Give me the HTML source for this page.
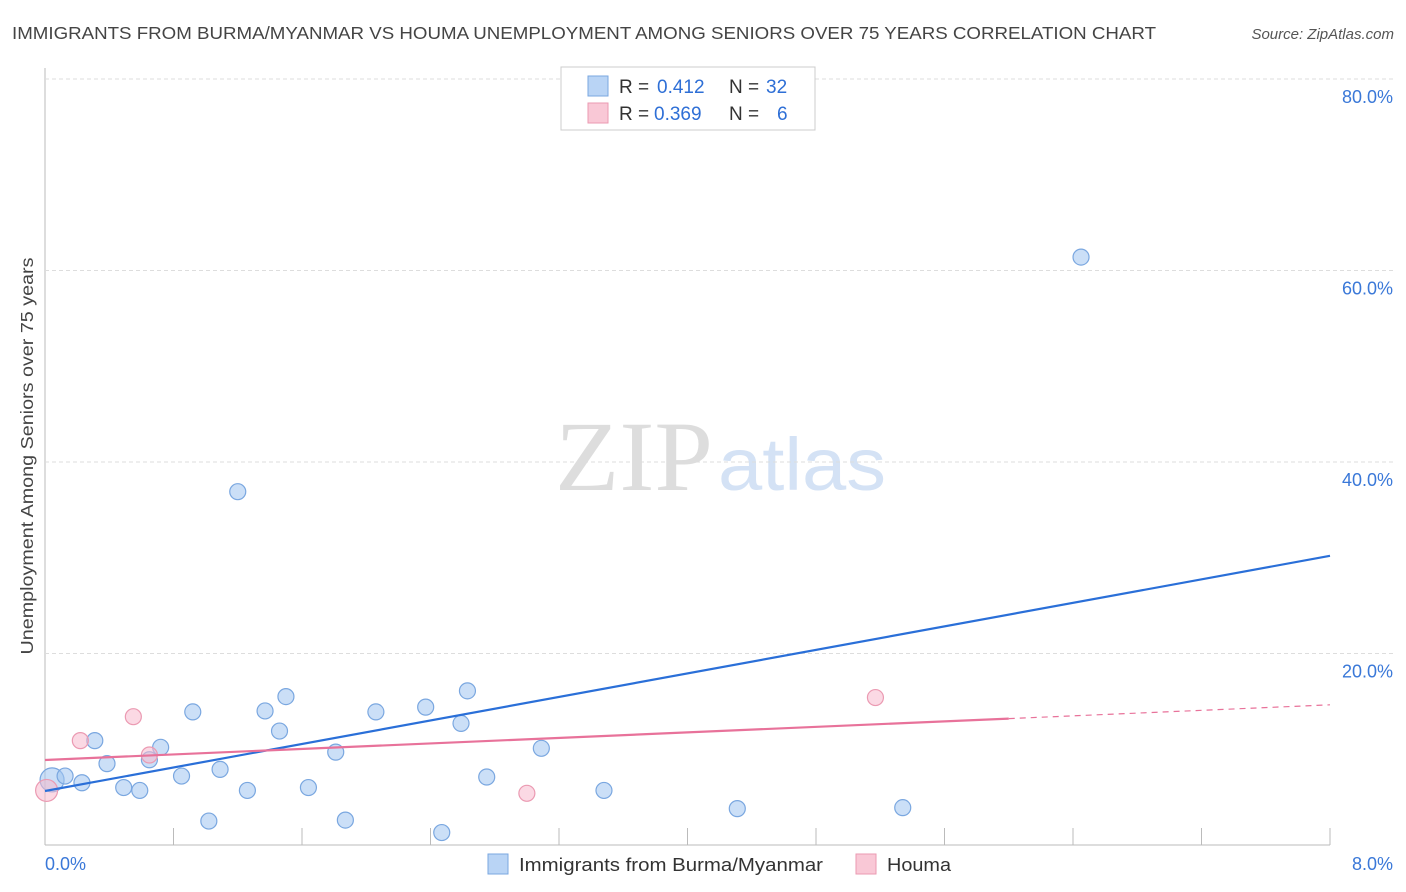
<!DOCTYPE html>
<html><head><meta charset="utf-8"><style>
body{margin:0;background:#fff;font-family:"Liberation Sans",sans-serif;}
svg{display:block}
</style></head><body>
<svg id="chart" width="1406" height="892">
<text x="12" y="39" font-size="17.5" fill="#444" textLength="1144" lengthAdjust="spacingAndGlyphs">IMMIGRANTS FROM BURMA/MYANMAR VS HOUMA UNEMPLOYMENT AMONG SENIORS OVER 75 YEARS CORRELATION CHART</text>
<text x="1394" y="39" font-size="15" fill="#555" font-style="italic" text-anchor="end">Source: ZipAtlas.com</text>
<text x="555" y="490" font-size="100" font-family="Liberation Serif" fill="#ddd" textLength="158" lengthAdjust="spacingAndGlyphs">ZIP</text>
<text x="718" y="490" font-size="74" fill="#d4e2f5" textLength="168" lengthAdjust="spacingAndGlyphs">atlas</text>
<text transform="translate(33,456) rotate(-90)" font-size="17.5" fill="#444" text-anchor="middle" textLength="397" lengthAdjust="spacingAndGlyphs">Unemployment Among Seniors over 75 years</text>
<g id="grid"></g><g id="marks"></g>
<g>
<rect x="561" y="67" width="254" height="63" fill="#fff" stroke="#ccc"/>
<rect x="588" y="76" width="20" height="20" fill="#b9d4f5" stroke="#7aa7e0"/>
<text x="619" y="93" font-size="19" fill="#333">R =</text>
<text x="657" y="93" font-size="19" fill="#2e6fd6">0.412</text>
<text x="729" y="93" font-size="19" fill="#333">N =</text>
<text x="766" y="93" font-size="19" fill="#2e6fd6">32</text>
<rect x="588" y="103" width="20" height="20" fill="#f9c8d6" stroke="#eb9ab2"/>
<text x="619" y="120" font-size="19" fill="#333">R =</text>
<text x="654" y="120" font-size="19" fill="#2e6fd6">0.369</text>
<text x="729" y="120" font-size="19" fill="#333">N =</text>
<text x="777" y="120" font-size="19" fill="#2e6fd6">6</text>
</g>
<g>
<rect x="488" y="854" width="20" height="20" fill="#b9d4f5" stroke="#7aa7e0"/>
<text x="519" y="871" font-size="18" fill="#333" textLength="304" lengthAdjust="spacingAndGlyphs">Immigrants from Burma/Myanmar</text>
<rect x="856" y="854" width="20" height="20" fill="#f9c8d6" stroke="#eb9ab2"/>
<text x="887" y="871" font-size="18" fill="#333" textLength="64" lengthAdjust="spacingAndGlyphs">Houma</text>
</g>
</svg>
<script>
const blueX=[0.044,0.125,0.23,0.31,0.386,0.49,0.59,0.65,0.72,0.85,0.92,1.02,1.09,1.20,1.26,1.37,1.46,1.50,1.64,1.81,1.87,2.06,2.37,2.47,2.59,2.63,2.75,3.09,3.48,4.31,5.34,6.45];
const blueY=[6.8,7.2,6.5,10.9,8.5,6.0,5.7,8.9,10.2,7.2,13.9,2.5,7.9,36.9,5.7,14.0,11.9,15.5,6.0,9.7,2.6,13.9,14.4,1.3,12.7,16.1,7.1,10.1,5.7,3.8,3.9,61.4];
const pinkX=[0.01,0.22,0.55,0.65,3.0,5.17];
const pinkY=[5.7,10.9,13.4,9.4,5.4,15.4];
const blueLine=[5.64,3.07]; // intercept, slope
const pinkLine=[8.88,0.72];
const yTicks=[20,40,60,80];
const xLabels=["0.0%","8.0%"];
const X=v=>45+v/8*1285, Y=v=>845-v/20*191.5;
const NS="http://www.w3.org/2000/svg";
function mk(p,t,a){const e=document.createElementNS(NS,t);for(const k in a)e.setAttribute(k,a[k]);p.appendChild(e);return e;}
const g=document.getElementById('grid'), m=document.getElementById('marks');
mk(g,'line',{x1:45,y1:68,x2:45,y2:845,stroke:'#bbb'});
mk(g,'line',{x1:45,y1:845,x2:1330,y2:845,stroke:'#bbb'});
yTicks.forEach(t=>{
 const l=mk(g,'line',{x1:45,y1:Y(t),x2:1393,y2:Y(t),stroke:'#ddd','stroke-dasharray':'4,3'});
 
 
 const tx=mk(g,'text',{x:1393,y:Y(t)+24,'font-size':18,fill:'#3a78d8','text-anchor':'end'});
 tx.textContent=t.toFixed(1)+'%';
 
 
});
for(let i=1;i<=10;i++){const l=mk(g,'line',{x1:X(i*0.8),y1:828,x2:X(i*0.8),y2:845,stroke:'#bbb'});
 
 }
xLabels.forEach((s,i)=>{const t=mk(g,'text',{x:i?1393:45,y:870,'font-size':18,fill:'#3a78d8','text-anchor':i?'end':'start'});t.textContent=s;
 
 });
blueX.forEach((x,i)=>{const c=mk(m,'circle',{cx:X(x),cy:Y(blueY[i]),r:i==0?12:8,fill:'rgba(160,196,240,0.55)',stroke:'#7aa7e0','stroke-width':1.2});
 
 });
pinkX.forEach((x,i)=>{const c=mk(m,'circle',{cx:X(x),cy:Y(pinkY[i]),r:i==0?11:8,fill:'rgba(247,185,205,0.55)',stroke:'#eb9ab2','stroke-width':1.2});
 
 });
let l=mk(m,'line',{x1:X(0),y1:Y(blueLine[0]),x2:X(8),y2:Y(blueLine[0]+8*blueLine[1]),stroke:'#2a6fd8','stroke-width':2.2});


l=mk(m,'line',{x1:X(0),y1:Y(pinkLine[0]),x2:X(6),y2:Y(pinkLine[0]+6*pinkLine[1]),stroke:'#e8729a','stroke-width':2.2});


l=mk(m,'line',{x1:X(6),y1:Y(pinkLine[0]+6*pinkLine[1]),x2:X(8),y2:Y(pinkLine[0]+8*pinkLine[1]),stroke:'#e8729a','stroke-width':1.2,'stroke-dasharray':'6,5'});


</script>
</body></html>
